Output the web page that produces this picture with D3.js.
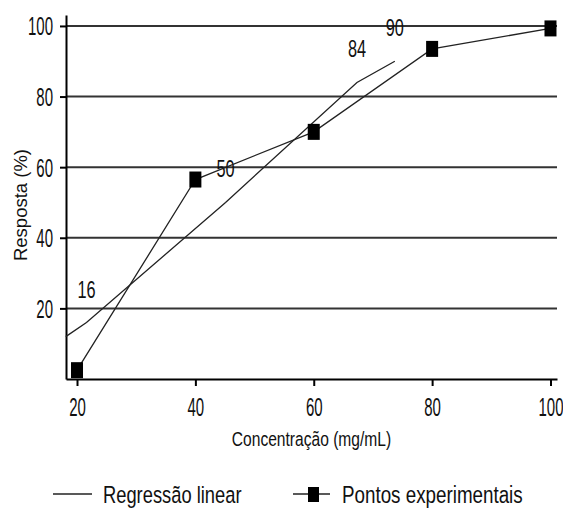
<!DOCTYPE html>
<html>
<head>
<meta charset="utf-8">
<script src="https://cdn.jsdelivr.net/npm/d3@7"></script>
<style>
  html, body { margin: 0; padding: 0; background: #fff; }
  svg { display: block; }
  text { font-family: "Liberation Sans", Arial, sans-serif; fill: #111; }
</style>
</head>
<body>
<svg id="chart" width="563" height="508"></svg>
<script>
// Experimental points: concentration (mg/mL) vs response (%)
const concentrations = [20, 40, 60, 80, 100];
const responses = [2.5, 56.5, 70, 93.5, 99.3];

// Linear regression trace (response values annotated along it)
const regX = [18.1, 21.6, 45.1, 67.3, 73.7];
const regY = [12, 16, 50, 84, 90];
const regLabelled = [false, true, true, true, true];

const xTicks = [20, 40, 60, 80, 100];
const yTicks = [20, 40, 60, 80, 100];

const xTitle = "Concentração (mg/mL)";
const yTitle = "Resposta (%)";
const legendNames = ["Regressão linear", "Pontos experimentais"];

const svg = d3.select("#chart");
const W = 563, H = 508;
const margin = { left: 66, right: 6, top: 15, bottom: 129 };

const x = d3.scaleLinear().domain([18.14, 101.1]).range([margin.left, W - margin.right]);
const y = d3.scaleLinear().domain([0, 103.1]).range([H - margin.bottom, margin.top]);

// narrow-looking type: squeeze glyphs horizontally
function narrowText(g, px, py, str, size, sx, anchor) {
  return g.append("text")
    .attr("transform", `translate(${px},${py}) scale(${sx},1)`)
    .attr("text-anchor", anchor || "start")
    .style("font-size", size + "px")
    .text(str);
}

svg.append("rect").attr("width", W).attr("height", H).attr("fill", "#fff");

// horizontal gridlines
svg.append("g").selectAll("line").data(yTicks).join("line")
  .attr("x1", x.range()[0]).attr("x2", x.range()[1])
  .attr("y1", d => y(d)).attr("y2", d => y(d))
  .attr("stroke", "#333").attr("stroke-width", 2);

// axes
const yAxis = svg.append("g").attr("transform", `translate(${margin.left},0)`)
  .call(d3.axisLeft(y).tickValues(yTicks).tickSize(6).tickSizeOuter(0).tickFormat(d3.format("d")));
const xAxis = svg.append("g").attr("transform", `translate(0,${H - margin.bottom})`)
  .call(d3.axisBottom(x).tickValues(xTicks).tickSize(7).tickSizeOuter(0).tickFormat(d3.format("d")));

[yAxis, xAxis].forEach(a => {
  a.select(".domain").attr("stroke", "#000").attr("stroke-width", 2);
  a.selectAll(".tick line").attr("stroke", "#000").attr("stroke-width", 2);
  a.selectAll("text").remove();
});

const tickSx = 0.6, tickSize = 25;
yAxis.selectAll(".tick").each(function (d) {
  narrowText(d3.select(this), -13, 9, d, tickSize, tickSx, "end");
});
xAxis.selectAll(".tick").each(function (d) {
  narrowText(d3.select(this), 0, 37, d, tickSize, tickSx, "middle");
});

// axis titles
narrowText(svg, (x.range()[0] + x.range()[1]) / 2, 446, xTitle, 19.5, 0.8, "middle");
svg.append("text")
  .attr("transform", `translate(27,${(y(0) + y(103.1)) / 2 + 8}) rotate(-90)`)
  .attr("text-anchor", "middle")
  .style("font-size", "18.5px")
  .text(yTitle);

// regression trace
const regPts = regX.map((v, i) => [v, regY[i]]);
const line = d3.line().x(d => x(d[0])).y(d => y(d[1]));
svg.append("path").datum(regPts).attr("d", line)
  .attr("fill", "none").attr("stroke", "#222").attr("stroke-width", 1.3);

// value labels on the regression trace
const labG = svg.append("g");
regPts.forEach((p, i) => {
  if (!regLabelled[i]) return;
  narrowText(labG, x(p[0]), y(p[1]) - 25, p[1], 24, 0.68, "middle");
});

// experimental series
const expPts = concentrations.map((v, i) => [v, responses[i]]);
svg.append("path").datum(expPts).attr("d", line)
  .attr("fill", "none").attr("stroke", "#222").attr("stroke-width", 1.3);
const mw = 12, mh = 16;
svg.append("g").selectAll("rect").data(expPts).join("rect")
  .attr("x", d => x(d[0]) - mw / 2).attr("y", d => y(d[1]) - mh / 2)
  .attr("width", mw).attr("height", mh).attr("fill", "#000");

// legend
const leg = svg.append("g");
leg.append("line").attr("x1", 53).attr("x2", 92).attr("y1", 494).attr("y2", 494)
  .attr("stroke", "#222").attr("stroke-width", 1.5);
narrowText(leg, 103, 503, legendNames[0], 23.5, 0.78, "start");
leg.append("line").attr("x1", 293).attr("x2", 330).attr("y1", 494).attr("y2", 494)
  .attr("stroke", "#222").attr("stroke-width", 1.5);
leg.append("rect").attr("x", 308).attr("y", 487).attr("width", 11).attr("height", 15).attr("fill", "#000");
narrowText(leg, 342, 503, legendNames[1], 23.5, 0.8, "start");
</script>
</body>
</html>
